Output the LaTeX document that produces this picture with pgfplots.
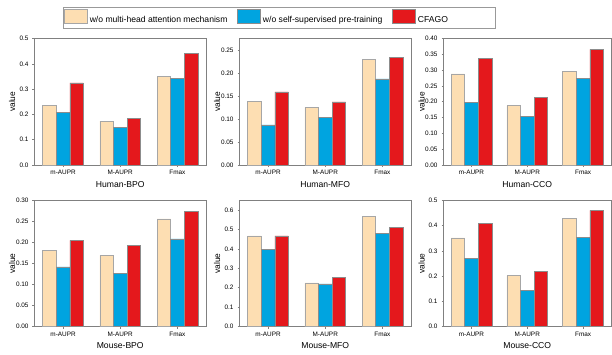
\documentclass[border=0pt]{standalone}
\usepackage{fontspec}
\setmainfont{Liberation Sans}
\usepackage{pgfplots}
\pgfplotsset{compat=1.18}
\definecolor{cbeige}{RGB}{253,222,178}
\definecolor{cblue}{RGB}{0,164,224}
\definecolor{cred}{RGB}{228,24,28}
\pgfplotsset{
 panel/.style={
  scale only axis, width=171.5pt, height=126.5pt,
  ybar=0pt, bar width=13.6pt,
  xmin=-0.5, xmax=2.5, ymin=0,
  xtick={0,1,2}, xticklabels={m-AUPR,M-AUPR,Fmax},
  axis line style={draw=black!50, line width=0.7pt},
  major tick style={draw=black!50, line width=0.6pt},
  major tick length=2pt, tick align=outside,
  xtick pos=bottom, ytick pos=left,
  tick label style={font=\fontsize{6.4}{7.5}\selectfont},
  yticklabel style={xshift=-0.5pt},
  /pgf/number format/assume math mode=true,
  scaled y ticks=false,
  yticklabel style={/pgf/number format/.cd, fixed, fixed zerofill, precision=#1},
  ylabel=value,
  ylabel style={font=\fontsize{8.4}{10}\selectfont, at={(axis description cs:-0.13,0.5)}, anchor=center},
  xlabel style={font=\fontsize{8.6}{10}\selectfont, at={(axis description cs:0.5,-0.152)}, anchor=center},
  legend image code/.code={\draw[##1] (0pt,-2.7pt) rectangle (23pt,10.6pt);},
 },
 barA/.style={fill=cbeige, draw=black!35, line width=0.5pt},
 barB/.style={fill=cblue, draw=black!45, line width=0.5pt},
 barC/.style={fill=cred, draw=black!45, line width=0.5pt},
}
\begin{document}
\begin{tikzpicture}
\path (0pt,0pt) rectangle (612pt,354pt);
% Human-BPO
\begin{axis}[panel=1, at={(34.5pt,189pt)}, anchor=south west, ymax=0.5,
  ytick={0,0.1,0.2,0.3,0.4,0.5}, xlabel={Human-BPO},
  legend columns=3,
  legend style={at={(axis description cs:0.166,1.164)}, anchor=west, draw=black!40, line width=0.6pt,
    inner xsep=1pt, inner ysep=2pt, font=\fontsize{8.6}{10}\selectfont,
    /tikz/every even column/.append style={column sep=8pt}},
  legend cell align=left]
\addplot[barA] coordinates {(0,0.237) (1,0.173) (2,0.350)};
\addplot[barB] coordinates {(0,0.208) (1,0.148) (2,0.343)};
\addplot[barC] coordinates {(0,0.325) (1,0.185) (2,0.440)};
\legend{w/o multi-head attention mechanism, w/o self-supervised pre-training, CFAGO\hspace*{44pt}}
\end{axis}
% Human-MFO
\begin{axis}[panel=2, at={(239.5pt,189pt)}, anchor=south west, ymax=0.275,
  ytick={0,0.05,0.10,0.15,0.20,0.25}, xlabel={Human-MFO}]
\addplot[barA] coordinates {(0,0.139) (1,0.125) (2,0.230)};
\addplot[barB] coordinates {(0,0.087) (1,0.104) (2,0.187)};
\addplot[barC] coordinates {(0,0.159) (1,0.137) (2,0.234)};
\end{axis}
% Human-CCO
\begin{axis}[panel=2, at={(443.5pt,189pt)}, anchor=south west, width=167.5pt, ymax=0.40,
  ytick={0,0.05,0.10,0.15,0.20,0.25,0.30,0.35,0.40}, xlabel={Human-CCO}]
\addplot[barA] coordinates {(0,0.288) (1,0.188) (2,0.297)};
\addplot[barB] coordinates {(0,0.197) (1,0.153) (2,0.275)};
\addplot[barC] coordinates {(0,0.338) (1,0.213) (2,0.366)};
\end{axis}
% Mouse-BPO
\begin{axis}[panel=2, at={(34.5pt,27.3pt)}, anchor=south west, ymax=0.30,
  ytick={0,0.05,0.10,0.15,0.20,0.25,0.30}, xlabel={Mouse-BPO}]
\addplot[barA] coordinates {(0,0.181) (1,0.169) (2,0.256)};
\addplot[barB] coordinates {(0,0.142) (1,0.127) (2,0.208)};
\addplot[barC] coordinates {(0,0.205) (1,0.193) (2,0.273)};
\end{axis}
% Mouse-MFO
\begin{axis}[panel=1, at={(239.5pt,27.3pt)}, anchor=south west, ymax=0.65,
  ytick={0,0.1,0.2,0.3,0.4,0.5,0.6}, xlabel={Mouse-MFO}]
\addplot[barA] coordinates {(0,0.467) (1,0.225) (2,0.565)};
\addplot[barB] coordinates {(0,0.398) (1,0.220) (2,0.479)};
\addplot[barC] coordinates {(0,0.467) (1,0.253) (2,0.510)};
\end{axis}
% Mouse-CCO
\begin{axis}[panel=1, at={(443.5pt,27.3pt)}, anchor=south west, width=167.5pt, ymax=0.5,
  ytick={0,0.1,0.2,0.3,0.4,0.5}, xlabel={Mouse-CCO}]
\addplot[barA] coordinates {(0,0.351) (1,0.202) (2,0.428)};
\addplot[barB] coordinates {(0,0.270) (1,0.145) (2,0.353)};
\addplot[barC] coordinates {(0,0.408) (1,0.219) (2,0.460)};
\end{axis}
\end{tikzpicture}
\end{document}
